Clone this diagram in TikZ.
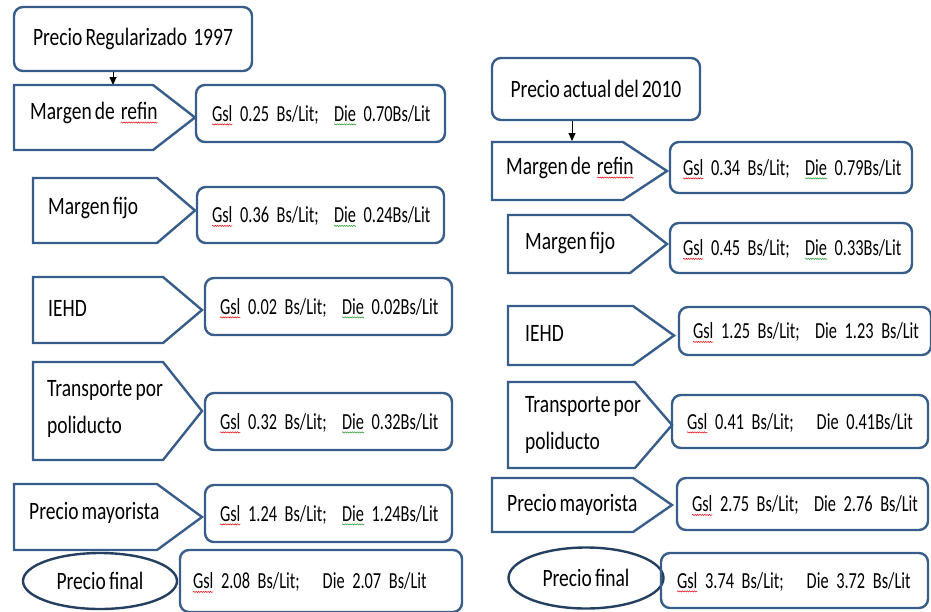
\documentclass[tikz,border=0pt]{standalone}
\usepackage{fontspec}
\setmainfont{Carlito}[FakeStretch=0.78, WordSpace=0.7]
\newfontfamily\valfont{Carlito}[FakeStretch=0.71, WordSpace=0.65]
\usetikzlibrary{arrows.meta,shapes.geometric,decorations.pathmorphing}

\definecolor{bordeazul}{HTML}{385D8A}
\definecolor{bordeoscuro}{HTML}{243F60}
\definecolor{subrojo}{HTML}{E8141E}
\definecolor{subverde}{HTML}{2E9E3A}

% palabra subrayada con linea ondulada
\newcommand{\ondul}[2]{\tikz[baseline=(w.base)]{\node[inner sep=0pt,outer sep=0pt] (w) {#2};%
  \draw[overlay,sharp corners,#1,line width=0.55pt,decorate,decoration={snake,amplitude=0.6pt,segment length=2.4pt}]%
  ([yshift=-3pt]w.base west) -- ([yshift=-3pt]w.base east);}}

\tikzset{
  caja/.style={draw=bordeazul, line width=2.4pt, rounded corners=9pt, align=left, inner ysep=0pt},
  valor/.style={caja, font=\valfont\fontsize{23}{28}\selectfont},
  punta/.style={draw=bordeazul, line width=2.4pt, line join=miter},
  elipse/.style={ellipse, draw=bordeoscuro, line width=2.4pt, inner sep=0pt},
  etiq/.style={anchor=west, inner sep=0pt, align=left},
  flechita/.style={-{Triangle[width=7pt,length=8pt]}, line width=1pt, black}
}

\begin{document}
\begin{tikzpicture}[x=1pt, y=-1pt, font=\fontsize{25}{37}\selectfont]
        \useasboundingbox (0,0) rectangle (931,611);
        \clip (0,0) rectangle (931,611);

        % Columna izquierda: precio 1997
        \node[caja, minimum width=238pt, minimum height=64pt] (reg) at (133,39) {Precio Regularizado\ \ 1997};
        \coordinate (mr1) at (113,85);
        \draw[flechita] (reg.south -| mr1) -- (mr1);

        \draw[punta] (14,85) -- (153,85) -- (195,117.5) -- (153,150) -- (14,150) -- cycle;
        \node[etiq] (ref1) at (30,113) {Margen de\ \ \ondul{subrojo}{refin}};
        \node[valor, text width=217pt, inner xsep=16pt, minimum height=57pt] (v1) at (320.5,113.5)
            {\mbox{\ondul{subrojo}{Gsl} 0.25 Bs/Lit;\ \ \ondul{subverde}{Die} 0.70Bs/Lit}};

        \draw[punta] (33,178) -- (157,178) -- (195,210.5) -- (157,243) -- (33,243) -- cycle;
        \node[etiq] (fij1) at (48,208) {Margen fijo};
        \node[valor, text width=217pt, inner xsep=15pt, minimum height=56pt] (v2) at (320.5,215)
            {\mbox{\ondul{subrojo}{Gsl} 0.36 Bs/Lit;\ \ \ondul{subverde}{Die} 0.24Bs/Lit}};

        \draw[punta] (33,277) -- (163,277) -- (202,310) -- (163,343) -- (33,343) -- cycle;
        \node[etiq] (ieh1) at (48,308) {IEHD};
        \node[valor, text width=217pt, inner xsep=15pt, minimum height=57pt] (v3) at (328.5,306.5)
            {\mbox{\ondul{subrojo}{Gsl} 0.02 Bs/Lit;\ \ \ondul{subverde}{Die} 0.02Bs/Lit}};

        \draw[punta] (33,362) -- (163,362) -- (202,411) -- (163,460) -- (33,460) -- cycle;
        \node[etiq] (tra1) at (47,409) {Transporte por\\poliducto};
        \node[valor, text width=217pt, inner xsep=15pt, minimum height=57pt] (v4) at (328.5,421.5)
            {\mbox{\ondul{subrojo}{Gsl} 0.32 Bs/Lit;\ \ \ondul{subverde}{Die} 0.32Bs/Lit}};

        \draw[punta] (14,484) -- (157,484) -- (202,517) -- (157,550) -- (14,550) -- cycle;
        \node[etiq] (may1) at (29,513) {Precio mayorista};
        \node[valor, text width=217pt, inner xsep=15pt, minimum height=57pt] (v5) at (328.5,513.5)
            {\mbox{\ondul{subrojo}{Gsl} 1.24 Bs/Lit;\ \ \ondul{subverde}{Die} 1.24Bs/Lit}};

        \node[elipse, minimum width=154pt, minimum height=56pt] (fin1) at (100,581) {Precio final};
        \node[valor, text width=256pt, inner xsep=13pt, minimum height=62pt] (v6) at (321,581)
            {\mbox{\ondul{subrojo}{Gsl} 2.08 Bs/Lit;\ \ \ Die 2.07 Bs/Lit}};

        % Columna derecha: precio 2010
        \node[caja, minimum width=208pt, minimum height=62pt] (act) at (596,89) {Precio actual del 2010};
        \coordinate (mr2) at (572,141);
        \draw[flechita] (act.south -| mr2) -- (mr2);

        \draw[punta] (492,142) -- (623,142) -- (667,171) -- (623,200) -- (492,200) -- cycle;
        \node[etiq] (ref2) at (506,168) {Margen de\ \ \ondul{subrojo}{refin}};
        \node[valor, text width=216pt, inner xsep=13pt, minimum height=51pt] (r1) at (791,167.5)
            {\mbox{\ondul{subrojo}{Gsl} 0.34 Bs/Lit;\ \ \ondul{subverde}{Die} 0.79Bs/Lit}};

        \draw[punta] (508,215) -- (630,215) -- (667,244) -- (630,273) -- (508,273) -- cycle;
        \node[etiq] (fij2) at (525,243) {Margen fijo};
        \node[valor, text width=216pt, inner xsep=13pt, minimum height=50pt] (r2) at (791,248)
            {\mbox{\ondul{subrojo}{Gsl} 0.45 Bs/Lit;\ \ \ondul{subverde}{Die} 0.33Bs/Lit}};

        \draw[punta] (508,306) -- (633,306) -- (674,335.5) -- (633,365) -- (508,365) -- cycle;
        \node[etiq] (ieh2) at (525,333) {IEHD};
        \node[valor, text width=224pt, inner xsep=14pt, minimum height=48pt] (r3) at (805,331)
            {\mbox{\ondul{subrojo}{Gsl} 1.25 Bs/Lit;\ \ Die 1.23 Bs/Lit}};

        \draw[punta] (508,382) -- (635,382) -- (672,425) -- (635,468) -- (508,468) -- cycle;
        \node[etiq] (tra2) at (525,425) {Transporte por\\poliducto};
        \node[valor, text width=226pt, inner xsep=15pt, minimum height=53pt] (r4) at (800,421.5)
            {\mbox{\ondul{subrojo}{Gsl} 0.41 Bs/Lit;\ \ \ Die 0.41Bs/Lit}};

        \draw[punta] (492,478) -- (633,478) -- (672,505) -- (633,532) -- (492,532) -- cycle;
        \node[etiq] (may2) at (507,505) {Precio mayorista};
        \node[valor, text width=221pt, inner xsep=15pt, minimum height=52pt] (r5) at (802.5,504)
            {\mbox{\ondul{subrojo}{Gsl} 2.75 Bs/Lit;\ \ Die 2.76 Bs/Lit}};

        \node[elipse, minimum width=155pt, minimum height=61pt] (fin2) at (586,578) {Precio final};
        \node[valor, text width=235pt, inner xsep=16pt, minimum height=55pt] (r6) at (794.5,580.5)
            {\mbox{\ondul{subrojo}{Gsl} 3.74 Bs/Lit;\ \ \ Die 3.72 Bs/Lit}};
\end{tikzpicture}
\end{document}
